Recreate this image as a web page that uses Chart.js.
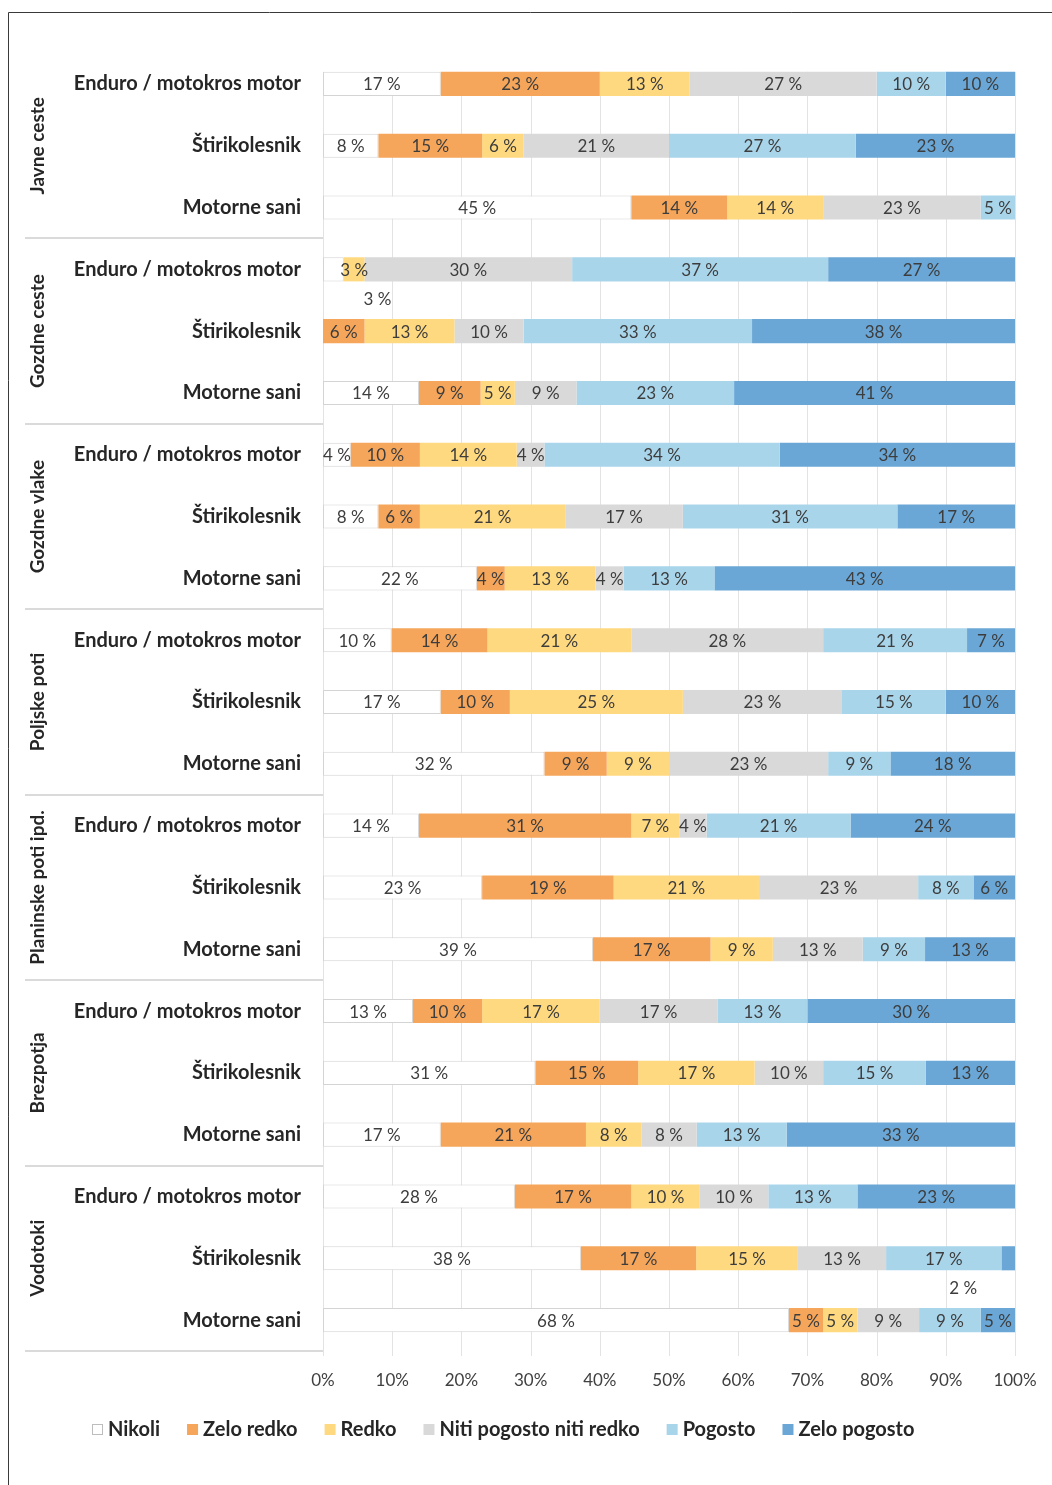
<!DOCTYPE html>
<html lang="sl">
<head>
<meta charset="utf-8">
<title>Pogostost vožnje po vrstah terena</title>
<script src="https://cdn.jsdelivr.net/npm/chart.js@4.4.1/dist/chart.umd.min.js"></script>
<style>
  html, body { margin: 0; padding: 0; background: #ffffff; }
  #wrap { position: relative; width: 1052px; height: 1485px; }
</style>
</head>
<body>
<div id="wrap"><canvas id="c" width="1052" height="1485"></canvas></div>
<script>
// Terrain groups and the vehicle rows inside each group
const groups = ['Javne ceste', 'Gozdne ceste', 'Gozdne vlake', 'Poljske poti', 'Planinske poti ipd.', 'Brezpotja', 'Vodotoki'];
const vehicles = ['Enduro / motokros motor', 'Štirikolesnik', 'Motorne sani'];

// Answer categories (legend order)
const answers = ['Nikoli', 'Zelo redko', 'Redko', 'Niti pogosto niti redko', 'Pogosto', 'Zelo pogosto'];
const answerColors = ['#ffffff', '#f5a65b', '#ffd97f', '#d9d9d9', '#a9d5eb', '#6aa7d6'];

// Shares in %, one value per row (7 groups x 3 vehicles, top to bottom)
const nikoli      = [17, 8, 45,  3,  0, 14,  4,  8, 22, 10, 17, 32, 14, 23, 39, 13, 31, 17, 28, 38, 68];
const zeloRedko   = [23, 15, 14, 0,  6,  9, 10,  6,  4, 14, 10,  9, 31, 19, 17, 10, 15, 21, 17, 17,  5];
const redko       = [13,  6, 14, 3, 13,  5, 14, 21, 13, 21, 25,  9,  7, 21,  9, 17, 17,  8, 10, 15,  5];
const niti        = [27, 21, 23, 30, 10, 9,  4, 17,  4, 28, 23, 23,  4, 23, 13, 17, 10,  8, 10, 13,  9];
const pogosto     = [10, 27,  5, 37, 33, 23, 34, 31, 13, 21, 15,  9, 21,  8,  9, 13, 15, 13, 13, 17,  9];
const zeloPogosto = [10, 23,  0, 27, 38, 41, 34, 17, 43,  7, 10, 18, 24,  6, 13, 30, 13, 33, 23,  2,  5];

// Axis ticks
const xTicks = [0, 10, 20, 30, 40, 50, 60, 70, 80, 90, 100];

const series = [nikoli, zeloRedko, redko, niti, pogosto, zeloPogosto];
const rowLabels = [];
groups.forEach(() => vehicles.forEach(v => rowLabels.push(v)));

// 100 % stacked: each row is scaled to its own total, labels keep the stated values
const rowTotals = rowLabels.map((_, r) => series.reduce((s, arr) => s + arr[r], 0));
const datasets = series.map((arr, i) => ({
  label: answers[i],
  data: arr.map((v, r) => v / rowTotals[r] * 100),
  raw: arr,
  backgroundColor: answerColors[i],
  borderColor: i === 0 ? '#d4d4d4' : answerColors[i],
  borderWidth: i === 0 ? 1 : 0,
  borderSkipped: false,
  barPercentage: 0.39,
  categoryPercentage: 1.0
}));

const FONT = 'Lato, "Open Sans", "DejaVu Sans", sans-serif';
const TEXT_DARK = '#262626';
const LABEL_COLOR = '#3d3d3d';

const decorPlugin = {
  id: 'decor',
  beforeDraw(chart) {
    const ctx = chart.ctx;
    ctx.save();
    ctx.fillStyle = '#ffffff';
    ctx.fillRect(0, 0, chart.width, chart.height);
    ctx.restore();
  },
  beforeDatasetsDraw(chart) {
    // vertical gridlines spanning the bars
    const ctx = chart.ctx, xs = chart.scales.x, ys = chart.scales.y;
    const first = chart.getDatasetMeta(0).data[0];
    const top = ys.getPixelForValue(0) - first.height / 2;
    const bottom = chart.chartArea.bottom;
    ctx.save();
    ctx.strokeStyle = '#e3e3e3';
    ctx.lineWidth = 1;
    xTicks.forEach(v => {
      const x = Math.round(xs.getPixelForValue(v)) + 0.5;
      ctx.beginPath();
      ctx.moveTo(x, top);
      ctx.lineTo(x, bottom + 5);
      ctx.stroke();
    });
    ctx.restore();
  },
  afterDatasetsDraw(chart) {
    // value labels inside segments
    const ctx = chart.ctx;
    ctx.save();
    ctx.font = '17px ' + FONT;
    ctx.textAlign = 'center';
    ctx.textBaseline = 'middle';
    ctx.fillStyle = LABEL_COLOR;
    chart.data.datasets.forEach((ds, i) => {
      const meta = chart.getDatasetMeta(i);
      meta.data.forEach((el, r) => {
        const v = ds.raw[r];
        if (!v) return;
        let x = (el.base + el.x) / 2;
        let y = el.y + 1;
        // very thin end segments get their label just under the bar
        const isFirst = series.slice(0, i).every(a => a[r] === 0);
        const isLast = series.slice(i + 1).every(a => a[r] === 0);
        if (v <= 3 && (isFirst || isLast)) {
          x += isFirst ? 44 : -45;
          y += el.height / 2 + 17;
        }
        ctx.fillText(v + ' %', x, y);
      });
    });
    ctx.restore();
  },
  afterDraw(chart) {
    const ctx = chart.ctx, ys = chart.scales.y, area = chart.chartArea;
    const n = vehicles.length;
    ctx.save();
    // group separators in the label column
    ctx.strokeStyle = '#dadada';
    ctx.lineWidth = 2;
    groups.forEach((g, gi) => {
      const last = gi * n + n - 1;
      const y = gi === groups.length - 1
        ? area.bottom
        : (ys.getPixelForValue(last) + ys.getPixelForValue(last + 1)) / 2;
      ctx.beginPath();
      ctx.moveTo(25, Math.round(y));
      ctx.lineTo(area.left, Math.round(y));
      ctx.stroke();
    });
    // rotated group names
    ctx.fillStyle = TEXT_DARK;
    ctx.font = 'bold 19px ' + FONT;
    ctx.textAlign = 'center';
    ctx.textBaseline = 'middle';
    groups.forEach((g, gi) => {
      const y = ys.getPixelForValue(gi * n + 1);
      ctx.save();
      ctx.translate(38, y);
      ctx.rotate(-Math.PI / 2);
      ctx.fillText(g, 0, 0);
      ctx.restore();
    });
    // legend
    ctx.font = 'bold 20px ' + FONT;
    ctx.textAlign = 'left';
    let lx = 92;
    const ly = 1430;
    answers.forEach((a, i) => {
      ctx.fillStyle = answerColors[i];
      ctx.fillRect(lx, ly - 6, 11, 11);
      if (i === 0) {
        ctx.strokeStyle = '#bdbdbd';
        ctx.lineWidth = 1;
        ctx.strokeRect(lx + 0.5, ly - 5.5, 10, 10);
      }
      ctx.fillStyle = TEXT_DARK;
      ctx.fillText(a, lx + 16, ly);
      lx += 16 + ctx.measureText(a).width + 27;
    });
    // outer frame (top and left edges)
    ctx.strokeStyle = '#3a3a3a';
    ctx.lineWidth = 1;
    ctx.beginPath();
    ctx.moveTo(8.5, chart.height);
    ctx.lineTo(8.5, 12.5);
    ctx.lineTo(chart.width, 12.5);
    ctx.stroke();
    ctx.restore();
  }
};

new Chart(document.getElementById('c'), {
  type: 'bar',
  data: { labels: rowLabels, datasets },
  options: {
    indexAxis: 'y',
    responsive: false,
    animation: false,
    devicePixelRatio: 1,
    layout: { padding: { left: 0, right: 37, top: 53, bottom: 84 } },
    plugins: { legend: { display: false }, tooltip: { enabled: false } },
    scales: {
      x: {
        stacked: true,
        min: 0, max: 100,
        afterFit(scale) { scale.height = 50; scale.paddingRight = 0; scale.paddingLeft = 0; },
        afterBuildTicks(scale) { scale.ticks = xTicks.map(v => ({ value: v })); },
        grid: { display: false, drawTicks: false },
        border: { display: false },
        ticks: {
          padding: 19,
          color: '#404040',
          font: { family: FONT, size: 17 },
          callback: v => v + '%'
        }
      },
      y: {
        stacked: true,
        afterFit(scale) { scale.width = 323; },
        grid: { display: false, drawTicks: false },
        border: { display: false },
        ticks: {
          autoSkip: false,
          padding: 22,
          color: TEXT_DARK,
          font: { family: FONT, size: 20, weight: 'bold' }
        }
      }
    }
  },
  plugins: [decorPlugin]
});
</script>
</body>
</html>
